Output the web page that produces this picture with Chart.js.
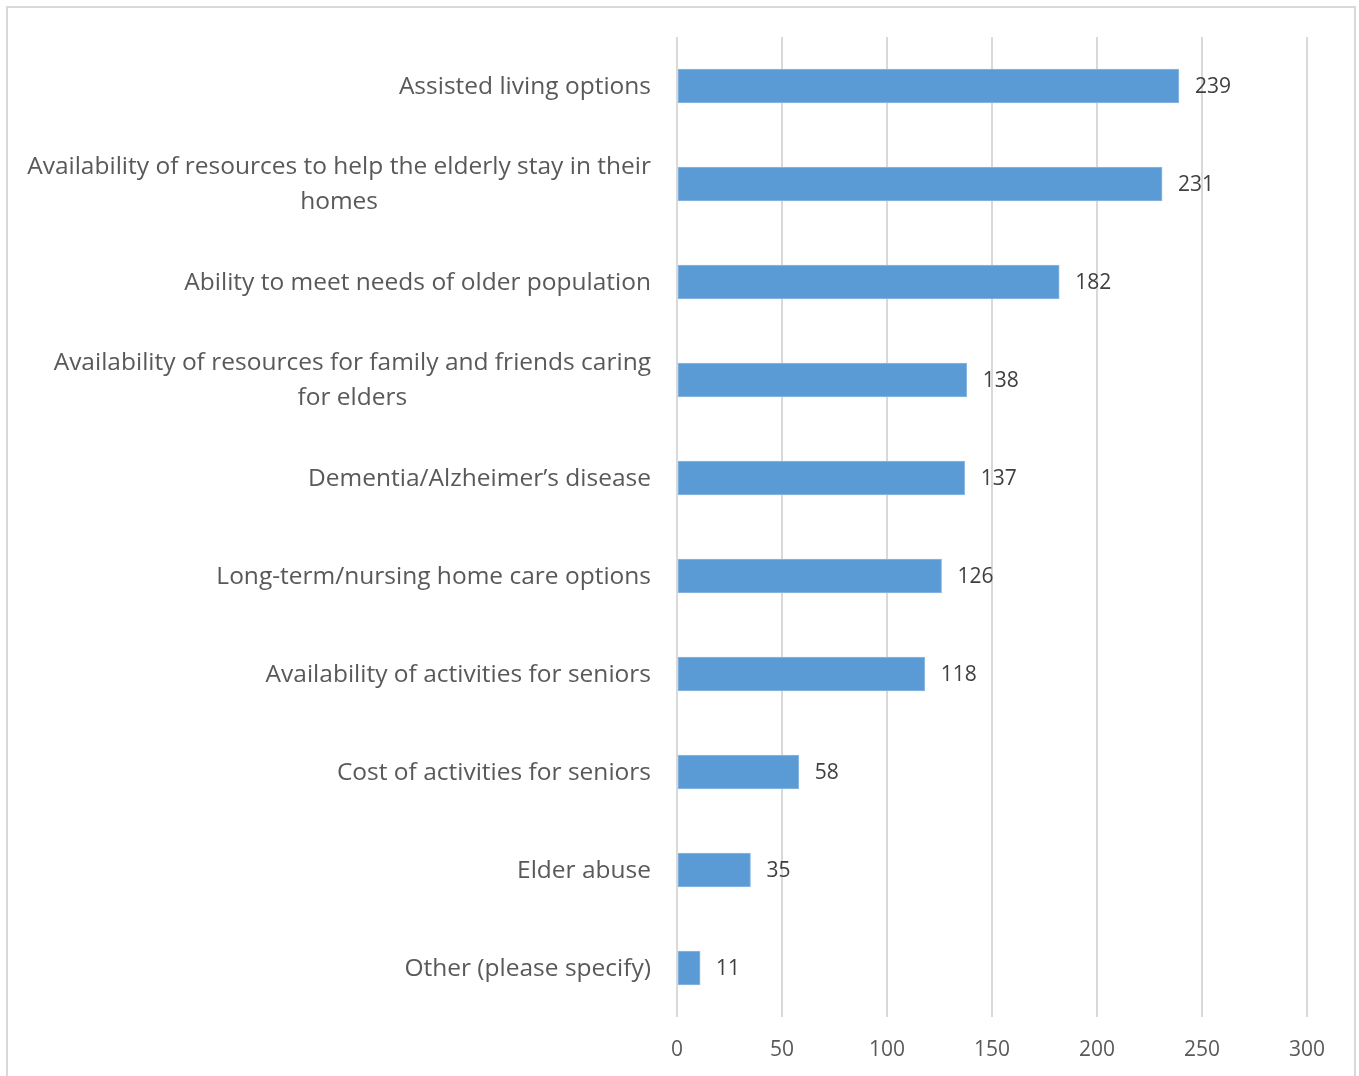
<!DOCTYPE html>
<html>
<head>
<meta charset="utf-8">
<script src="https://cdn.jsdelivr.net/npm/chart.js@4.4.1/dist/chart.umd.min.js"></script>
<style>
  html, body { margin: 0; padding: 0; background: #fff; overflow: hidden; }
  .frame { position: absolute; left: 6px; top: 6px; width: 1346px; height: 1200px; border: 2px solid #d9d9d9; }
  #chart { position: absolute; left: 0; top: 0; }
</style>
</head>
<body>
<div class="frame"></div>
<canvas id="chart" width="1359" height="1076"></canvas>
<script>
var categories = [
  ["Assisted living options"],
  ["Availability of resources to help the elderly stay in their", "homes"],
  ["Ability to meet needs of older population"],
  ["Availability of resources for family and friends caring", "for elders"],
  ["Dementia/Alzheimer\u2019s disease"],
  ["Long-term/nursing home care options"],
  ["Availability of activities for seniors"],
  ["Cost of activities for seniors"],
  ["Elder abuse"],
  ["Other (please specify)"]
];
var counts = [239, 231, 182, 138, 137, 126, 118, 58, 35, 11];
var xTicks = [0, 50, 100, 150, 200, 250, 300];

var FONT = "'Open Sans', sans-serif";

// category labels: right aligned block, lines centred within it
var categoryLabels = {
  id: "categoryLabels",
  afterDraw: function(chart) {
    var ctx = chart.ctx;
    var yScale = chart.scales.y;
    ctx.save();
    ctx.font = "24.5px " + FONT;
    ctx.fillStyle = "#595959";
    ctx.textAlign = "center";
    ctx.textBaseline = "middle";
    var right = 651, lh = 35;
    categories.forEach(function(lines, i) {
      var y = yScale.getPixelForValue(i) + 1;
      var widest = 0;
      lines.forEach(function(l) { widest = Math.max(widest, ctx.measureText(l).width); });
      var cx = right - widest / 2;
      var y0 = y - (lines.length - 1) * lh / 2;
      lines.forEach(function(l, k) { ctx.fillText(l, cx, y0 + k * lh); });
    });
    ctx.restore();
  }
};

var valueLabels = {
  id: "valueLabels",
  afterDatasetsDraw: function(chart) {
    var ctx = chart.ctx;
    ctx.save();
    ctx.font = "21px " + FONT;
    ctx.fillStyle = "#404040";
    ctx.textAlign = "left";
    ctx.textBaseline = "middle";
    chart.getDatasetMeta(0).data.forEach(function(bar, i) {
      ctx.fillText(String(counts[i]), bar.x + 16, bar.y + 1.5);
    });
    ctx.restore();
  }
};

new Chart(document.getElementById("chart"), {
  type: "bar",
  data: {
    labels: categories,
    datasets: [{
      data: counts,
      backgroundColor: "#5b9bd5",
      borderColor: "#8fbbe3",
      borderWidth: 1,
      borderSkipped: false,
      barThickness: 34
    }]
  },
  options: {
    indexAxis: "y",
    responsive: false,
    animation: false,
    layout: { padding: { left: 677, right: 52, top: 37, bottom: 0 } },
    plugins: { legend: { display: false }, tooltip: { enabled: false } },
    scales: {
      x: {
        min: 0, max: 300,
        afterBuildTicks: function(s) { s.ticks = xTicks.map(function(v) { return { value: v }; }); },
        afterFit: function(s) { s.height = 59; },
        grid: { color: "#d9d9d9", lineWidth: 2, drawTicks: false },
        border: { display: false },
        ticks: { color: "#595959", font: { family: FONT, size: 21 }, padding: 20 }
      },
      y: {
        afterFit: function(s) { s.width = 0; },
        grid: { display: false },
        border: { display: false },
        ticks: { display: false }
      }
    }
  },
  plugins: [categoryLabels, valueLabels]
});
</script>
</body>
</html>
